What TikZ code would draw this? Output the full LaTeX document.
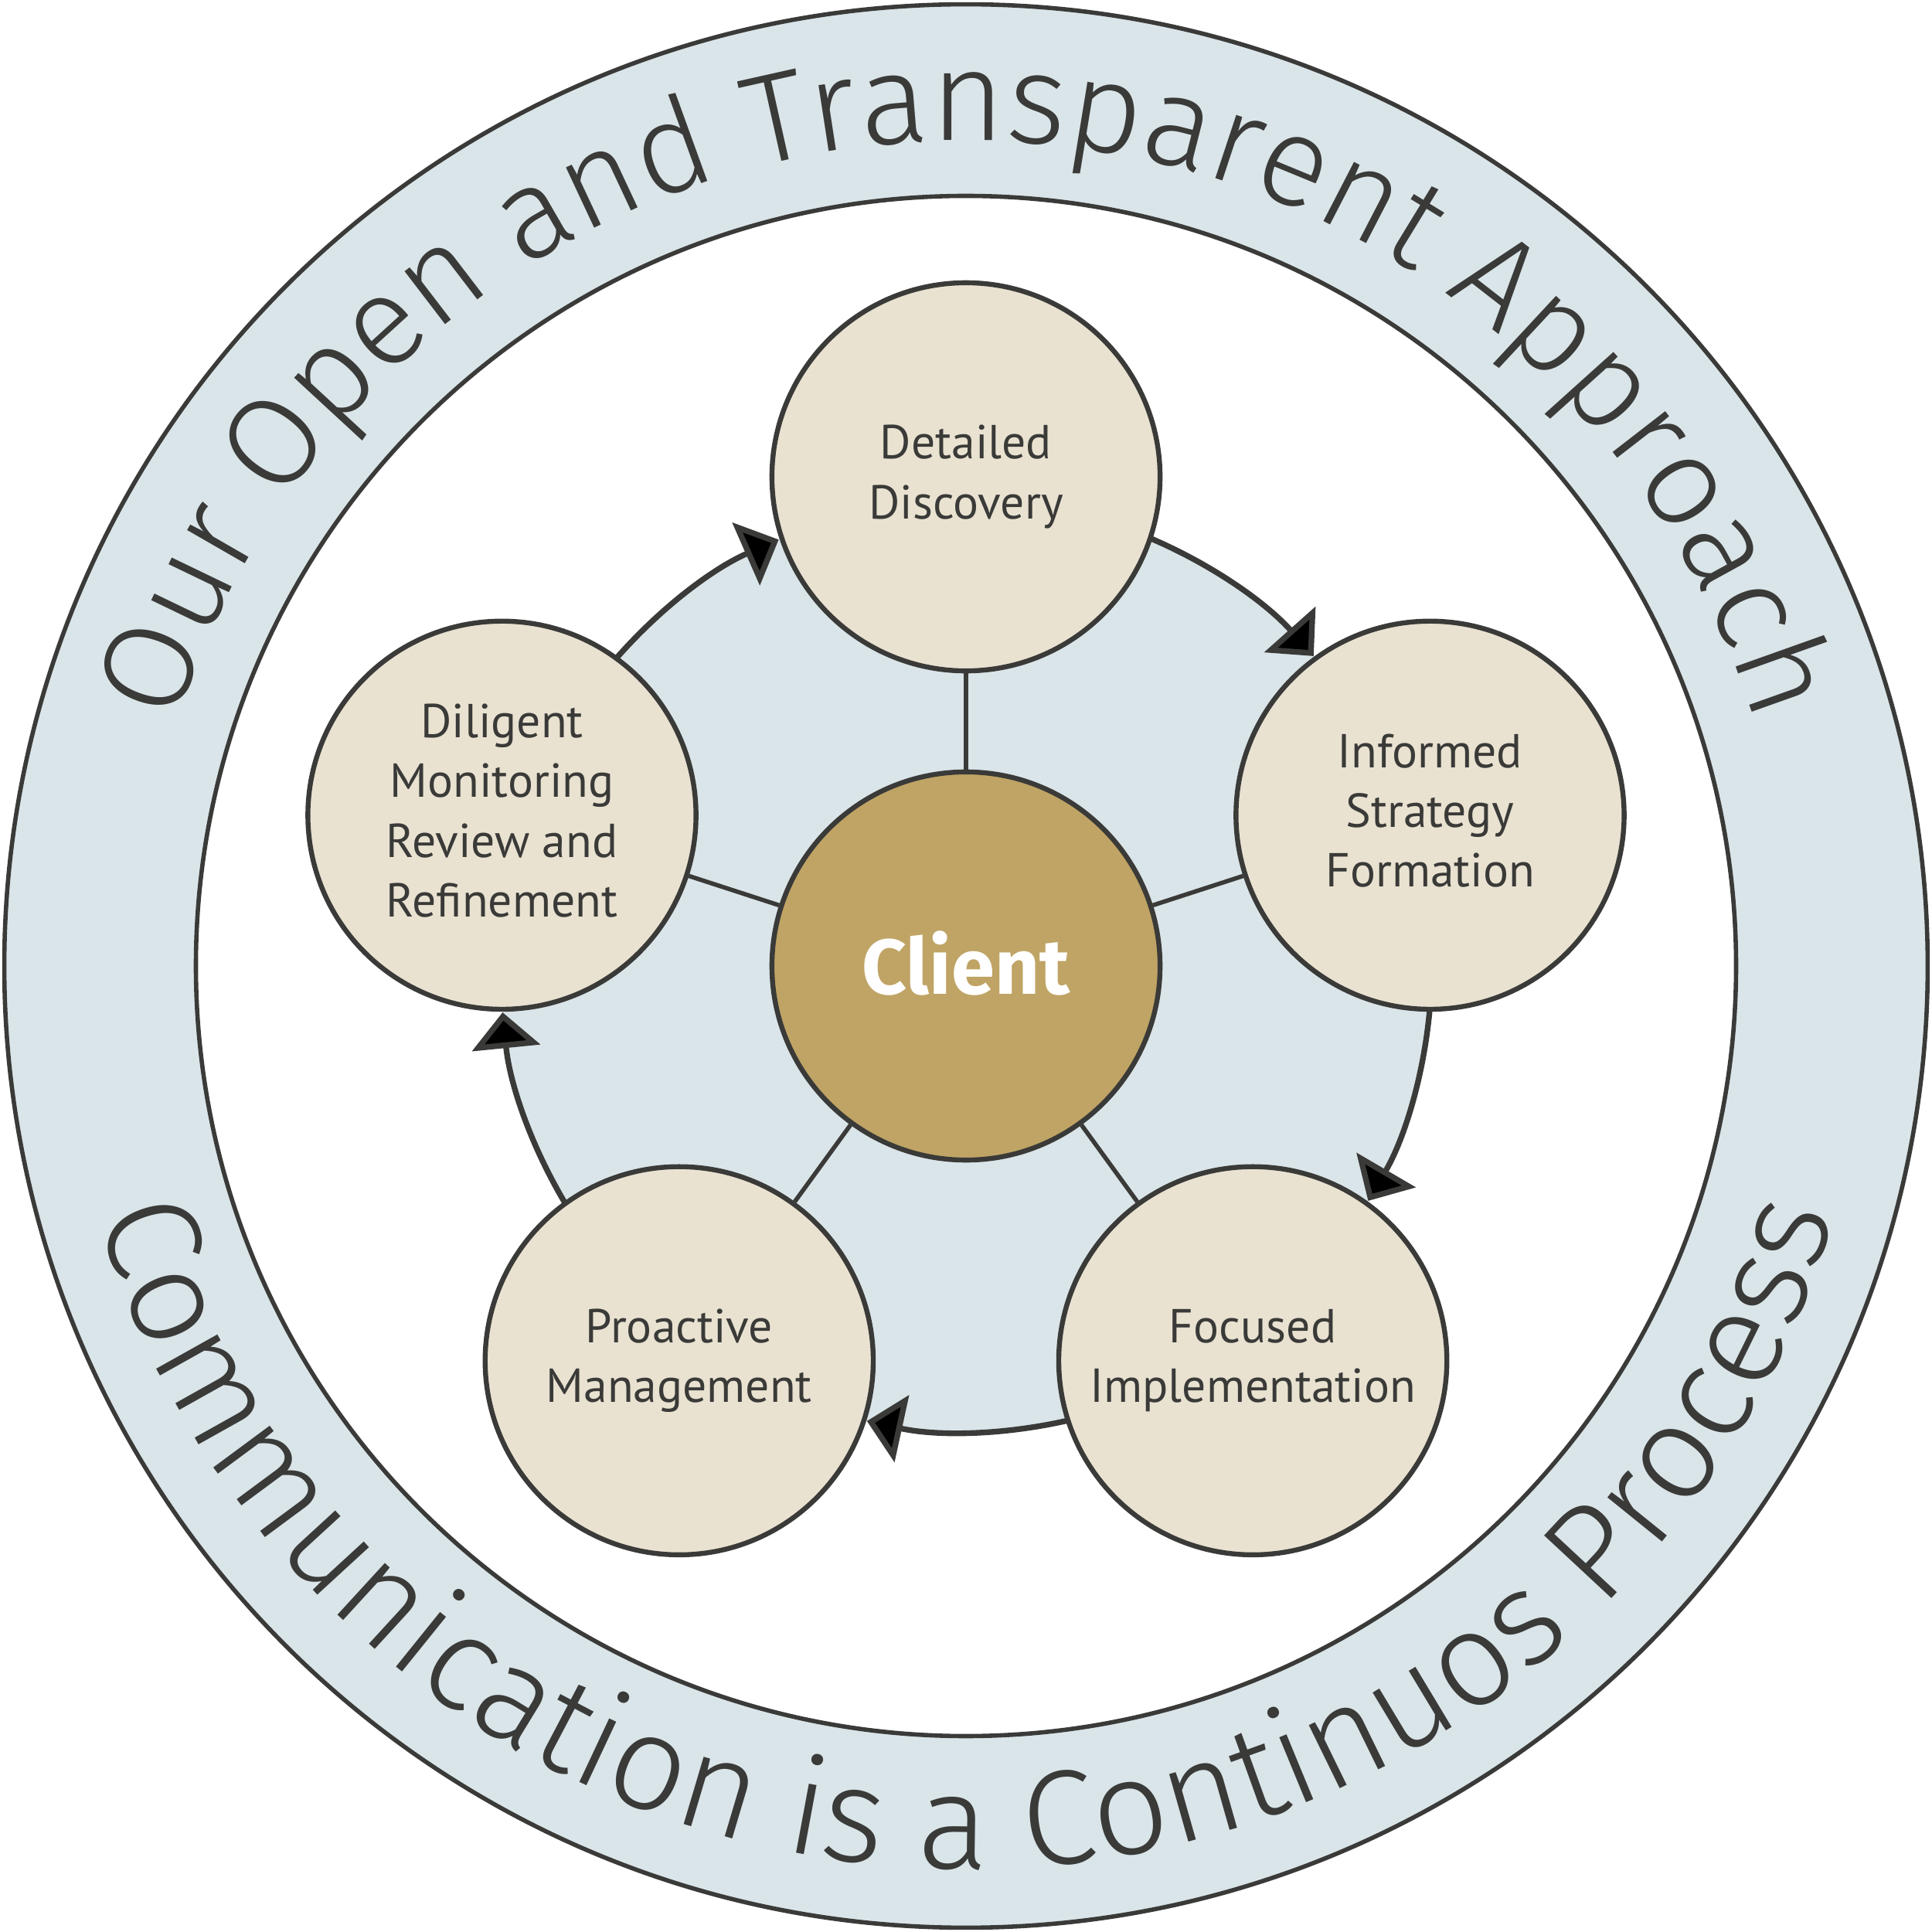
\documentclass[tikz,border=0pt]{standalone}
\usepackage{fontspec}
\setmainfont{PT Sans}
\newfontfamily\ringfont{Fira Sans Light}
\newfontfamily\clientfont{Fira Sans}
\usetikzlibrary{decorations.text, arrows.meta}
\definecolor{ringblue}{HTML}{DAE5E9}
\definecolor{nodefill}{HTML}{E9E2D1}
\definecolor{clientgold}{HTML}{BFA465}
\definecolor{ink}{HTML}{3A3A38}
\begin{document}
\begin{tikzpicture}[
  stage/.style={circle, draw=ink, line width=0.4mm, fill=nodefill, minimum size=3.15cm, inner sep=0pt, align=center, text=ink, font=\fontsize{11}{13.8}\selectfont},
  hub/.style={circle, draw=ink, line width=0.4mm, fill=clientgold, minimum size=3.15cm, inner sep=0pt, text=white, font=\clientfont\bfseries\fontsize{18}{22}\selectfont},
  spoke/.style={draw=ink, line width=0.35mm},
  flow/.style={draw=ink, line width=0.46mm, -{Triangle[length=2.9mm, width=5.5mm]}},
  ringtext/.style 2 args={decorate, decoration={text along path, text align=center, text color=ink, text={|\ringfont\fontsize{#1}{#1}\selectfont|#2}}}
]
\useasboundingbox (-7.84,-7.84) rectangle (7.84,7.84);
% rings
\path[fill=ringblue, draw=ink, line width=0.35mm] (0,0) circle[radius=7.805];
\path[fill=white, draw=ink, line width=0.35mm] (0,0) circle[radius=6.25];
\path[fill=ringblue] (0,0) circle[radius=3.78];
% ring texts
\path[ringtext={29.4}{Our Open and Transparent Approach}] (180:6.70) arc[start angle=180, end angle=0, radius=6.70];
\path[ringtext={31}{Communication is a Continuos Process}] (180:7.33) arc[start angle=180, end angle=360, radius=7.33];
% cycle arcs
\foreach \t in {90,18,-54,-126,-198}{
  \draw[flow] (\t-20:3.78) arc[start angle=\t-20, end angle=\t-48.28, radius=3.78];
}
% nodes
\node[hub] (client) at (0,0) {\raisebox{0.6mm}{Client}};
\node[stage] (dd) at (90:3.97) {Detailed\\Discovery};
\node[stage] (isf) at (18:3.96) {\raisebox{0.5mm}{\begin{tabular}{@{}c@{}}Informed\\Strategy\\Formation\end{tabular}}};
\node[stage] (fi) at (-54:3.96) {Focused\\Implementation};
\node[stage] (pm) at (-126:3.96) {Proactive\\Management};
\node[stage] (dm) at (162:3.96) {\raisebox{0.5mm}{\begin{tabular}{@{}c@{}}Diligent\\Monitoring\\Review and\\Refinement\end{tabular}}};
% spokes
\foreach \n in {dd,isf,fi,pm,dm}{
  \draw[spoke] (client) -- (\n);
}
\end{tikzpicture}
\end{document}
